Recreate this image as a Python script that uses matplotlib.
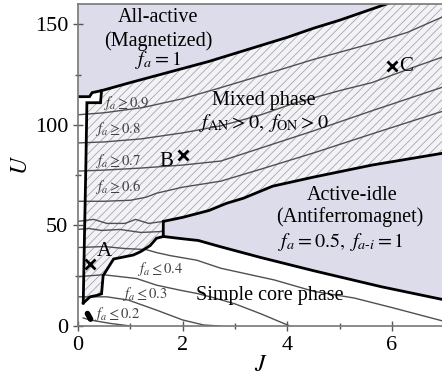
import numpy as np
import matplotlib
matplotlib.use("Agg")
import matplotlib.pyplot as plt
from matplotlib.patches import Polygon
from matplotlib.ticker import MultipleLocator

plt.rcParams["font.family"] = ["Liberation Serif", "DejaVu Serif"]
plt.rcParams["mathtext.fontset"] = "stix"
plt.rcParams["hatch.linewidth"] = 0.6

# ---- phase boundaries (J, U) ----
upper_J = [0, 0.22, 0.27, 0.45, 1.0, 1.5, 2.0, 2.5, 3.0, 3.5, 4.0, 4.5, 5.0, 5.5, 6.0, 7.0]
upper_U = [114, 114, 116, 117, 121, 124.5, 128, 131.5, 135.5, 139.5, 143.5, 148, 152, 156.5, 161, 169]

strip_J = [0.45, 0.43, 0.17, 0.15, 0.12, 0.10]
strip_U = [117, 111, 111, 80, 40, 11.4]

pocket_J = [0.10, 0.23, 0.36, 0.45, 0.46, 0.48, 0.60, 0.68, 1.06, 1.20, 1.38, 1.50, 1.63]
pocket_U = [11.4, 14.5, 15.2, 16, 19, 25, 30, 33.3, 35.3, 37, 40, 43.6, 44.5]

ai_top_J = [1.63, 1.63, 2.0, 2.5, 2.84, 3.16, 3.72, 4.5, 5.62, 7.0]
ai_top_U = [44.5, 52, 54, 57.4, 61, 63.5, 69.5, 74, 80, 86]

ai_bot_J = [1.63, 1.95, 2.3, 2.71, 3.5, 4.5, 5.8, 7.0]
ai_bot_U = [44.5, 43.5, 42.5, 39.5, 34, 27.5, 19.5, 13]

island_J = [0.18, 0.24]
island_U = [6.2, 3.4]

# ---- f_a contours ----
c09_J = [0, 0.5, 1.24, 2.0, 2.73, 3.5, 4.5, 5.62, 6.3, 7]
c09_U = [105, 106, 108.6, 113, 118.5, 124.5, 132.5, 140.5, 146, 154]
c08_J = [0, 0.5, 1.2, 2.0, 2.73, 3.5, 4.1, 5.0, 5.62, 6.4, 7]
c08_U = [91, 91.5, 93, 96, 99.5, 105, 110.5, 117, 121, 128.5, 134]
c07_J = [0, 0.5, 1.2, 2.0, 2.73, 3.5, 4.5, 5.62, 7]
c07_U = [77, 77.5, 78.5, 80, 82, 88.5, 97, 107, 119]
c06_J = [0, 0.5, 1.0, 1.3, 1.5, 2.0, 2.73, 3.5, 4.5, 5.62, 7]
c06_U = [62, 62, 62.5, 64, 66, 69, 72, 78, 86, 95.5, 107]
c05a_J = [0, 0.3, 0.55, 0.9, 1.1, 1.35, 1.63]
c05a_U = [52, 53, 51, 51, 53, 51, 52]
c05b_J = [0, 0.2, 0.45, 0.8, 1.2, 1.63]
c05b_U = [48, 48.5, 47.5, 48, 46.5, 47]
c04_J = [0, 0.5, 0.9, 1.3, 1.5, 1.76, 2.27, 2.73, 3.75, 4.51, 5.28, 6.04, 7]
c04_U = [39, 39.5, 38.5, 38, 36.5, 35, 32.7, 28.7, 22.9, 17.2, 13.9, 8.9, 2.3]
c03_J = [0, 0.48, 1.12, 1.5, 1.95, 2.27, 2.6, 3.0, 3.5, 4.05]
c03_U = [24.5, 25.5, 23.6, 20.3, 17.8, 16.2, 14, 11, 6, 0]
c02_J = [0, 0.55, 0.96, 1.5, 2.0, 2.4, 2.7]
c02_U = [14.5, 14.5, 12.9, 7.9, 3, 0.5, 0]
c01_J = [0.1, 0.23, 0.61, 1.0]
c01_U = [4, 3, 1.3, 0]

# ---- marked points ----
point_names = ["A", "B", "C"]
point_J = [0.23, 2.0, 6.0]
point_U = [31, 85, 129]

lavender = "#dcdcea"
fig = plt.figure(figsize=(4.42, 3.76), dpi=100)
ax = fig.add_axes([0.1765, 0.133, 0.8285, 0.856])
ax.set_xlim(0, 7)
ax.set_ylim(0, 160)

# All-active region
ax.fill_between(upper_J, upper_U, 200, color=lavender, lw=0, zorder=1)

# Mixed phase (hatched)
sel = [i for i, j in enumerate(upper_J) if j >= 0.45]
mix_J = [upper_J[i] for i in sel] + ai_top_J[::-1] + pocket_J[::-1][1:] + strip_J[::-1][1:]
mix_U = [upper_U[i] for i in sel] + ai_top_U[::-1] + pocket_U[::-1][1:] + strip_U[::-1][1:]
ax.add_patch(Polygon(np.column_stack([mix_J, mix_U]), closed=True,
                     facecolor="#f3f3f7", edgecolor="#a5a5ad", hatch="////",
                     lw=0, zorder=1))

# Active-idle region
ai_J = ai_top_J + ai_bot_J[::-1]
ai_U = ai_top_U + ai_bot_U[::-1]
ax.add_patch(Polygon(np.column_stack([ai_J, ai_U]), closed=True,
                     facecolor=lavender, lw=0, zorder=1))

thin = dict(color="#505050", lw=1.0, zorder=2)
for cj, cu in [(c09_J, c09_U), (c08_J, c08_U), (c07_J, c07_U), (c06_J, c06_U),
               (c05a_J, c05a_U), (c05b_J, c05b_U), (c04_J, c04_U), (c03_J, c03_U),
               (c02_J, c02_U), (c01_J, c01_U)]:
    ax.plot(cj, cu, **thin)

thick = dict(color="black", lw=2.0, zorder=3, solid_joinstyle="miter")
for bj, bu in [(upper_J, upper_U), (strip_J, strip_U), (pocket_J, pocket_U),
               (ai_top_J, ai_top_U), (ai_bot_J, ai_bot_U)]:
    ax.plot(bj, bu, **thick)
ax.plot(island_J, island_U, color="black", lw=4, solid_capstyle="round", zorder=3)

# points A, B, C
ax.plot(point_J, point_U, "x", color="black", ms=7, mew=2, zorder=4)
ax.text(0.51, 37, "A", fontsize=15, ha="center", va="center", zorder=4)
ax.text(1.69, 82, "B", fontsize=15, ha="center", va="center", zorder=4)
ax.text(6.28, 129, "C", fontsize=15, ha="center", va="center", zorder=4)

# region labels
rk = dict(fontsize=14.5, ha="center", va="center", zorder=4)
ax.text(1.53, 153.5, "All-active", **rk)
ax.text(1.53, 141.6, "(Magnetized)", **rk)
ax.text(1.53, 132, r"$f_a = 1$", **rk)
ax.text(3.55, 112, "Mixed phase", **rk)
ax.text(3.55, 101, r"$f_{\rm AN} > 0,\ f_{\rm ON} > 0$", **rk)
ax.text(5.24, 65, "Active-idle", **rk)
ax.text(5.2, 54, "(Antiferromagnet)", **rk)
ax.text(5.03, 42, r"$f_a = 0.5,\ f_{a\text{-}i} = 1$", **rk)
ax.text(3.67, 15.3, "Simple core phase", **rk)

# contour labels
ck = dict(fontsize=10.5, color="#404040", ha="center", va="center", zorder=4)
ax.text(0.92, 111, r"$f_a \geq 0.9$", **ck)
ax.text(0.77, 98, r"$f_a \geq 0.8$", **ck)
ax.text(0.77, 82, r"$f_a \geq 0.7$", **ck)
ax.text(0.77, 69, r"$f_a \geq 0.6$", **ck)
ax.text(1.57, 28.2, r"$f_a \leq 0.4$", **ck)
ax.text(1.27, 15.8, r"$f_a \leq 0.3$", **ck)
ax.text(0.75, 6, r"$f_a \leq 0.2$", **ck)

# axes styling
ax.xaxis.set_major_locator(MultipleLocator(2))
ax.xaxis.set_minor_locator(MultipleLocator(1))
ax.yaxis.set_major_locator(MultipleLocator(50))
ax.yaxis.set_minor_locator(MultipleLocator(25))
ax.tick_params(which="both", direction="inout", color="#555555", labelsize=16)
ax.tick_params(which="major", length=7, width=1)
ax.tick_params(which="minor", length=4, width=1)
for s in ax.spines.values():
    s.set_color("#777777")
    s.set_linewidth(1.2)
    s.set_zorder(5)
ax.set_xlabel("$J$", fontsize=17, labelpad=0)
ax.set_ylabel("$U$", fontsize=17, labelpad=2)

fig.savefig("out.png", dpi=100)
